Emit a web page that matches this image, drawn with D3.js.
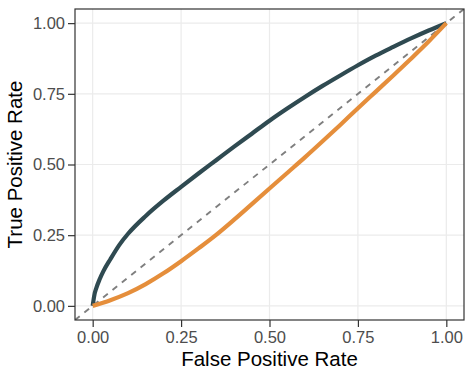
<!DOCTYPE html>
<html>
<head>
<meta charset="utf-8">
<script src="https://cdn.jsdelivr.net/npm/d3@7"></script>
<style>
  body { margin: 0; background: #fff; }
  svg text { font-family: "Liberation Sans", Arial, sans-serif; }
</style>
</head>
<body>
<script>
// ROC curves
const ticks = [0, 0.25, 0.5, 0.75, 1];
const tickLabels = ["0.00", "0.25", "0.50", "0.75", "1.00"];

const fprA = [0, 0.005, 0.01, 0.02, 0.03, 0.05, 0.075, 0.1, 0.15, 0.2, 0.25, 0.3, 0.35, 0.4, 0.45,
              0.5, 0.55, 0.6, 0.65, 0.7, 0.75, 0.8, 0.85, 0.9, 0.95, 1];
const tprA = [0, 0.04, 0.062, 0.095, 0.122, 0.165, 0.215, 0.255, 0.318, 0.372, 0.421, 0.469, 0.516, 0.563, 0.609,
              0.655, 0.698, 0.739, 0.778, 0.815, 0.851, 0.885, 0.916, 0.946, 0.974, 1];

const fprB = [0, 0.05, 0.1, 0.15, 0.2, 0.25, 0.3, 0.35, 0.4, 0.45, 0.5,
              0.55, 0.6, 0.65, 0.7, 0.75, 0.8, 0.85, 0.9, 0.95, 1];
const tprB = [0, 0.02, 0.045, 0.077, 0.115, 0.158, 0.204, 0.252, 0.305, 0.36, 0.415,
              0.47, 0.525, 0.582, 0.64, 0.699, 0.757, 0.815, 0.874, 0.935, 1];

const series = [
    { colour: "#2f4a51", pts: fprA.map((d, i) => [d, tprA[i]]) },
    { colour: "#e58e3b", pts: fprB.map((d, i) => [d, tprB[i]]) }
];

// Dimensions
const W = 472, H = 377;
const margin = { top: 9, right: 8, bottom: 57, left: 75 };
const width = W - margin.left - margin.right;
const height = H - margin.top - margin.bottom;

const svg = d3.select("body")
    .append("svg")
    .attr("width", W)
    .attr("height", H);

const g = svg.append("g")
    .attr("transform", `translate(${margin.left}, ${margin.top})`);

const x = d3.scaleLinear().domain([-0.05, 1.05]).range([0, width]);
const y = d3.scaleLinear().domain([-0.05, 1.05]).range([height, 0]);

// Grid
g.selectAll(".gx").data(ticks).join("line")
    .attr("x1", d => x(d)).attr("x2", d => x(d))
    .attr("y1", 0).attr("y2", height)
    .attr("stroke", "#ebebeb").attr("stroke-width", 1.2);
g.selectAll(".gy").data(ticks).join("line")
    .attr("y1", d => y(d)).attr("y2", d => y(d))
    .attr("x1", 0).attr("x2", width)
    .attr("stroke", "#ebebeb").attr("stroke-width", 1.2);

// Clip for the diagonal
g.append("clipPath").attr("id", "clip")
    .append("rect").attr("width", width).attr("height", height);

// Diagonal reference line
g.append("line")
    .attr("clip-path", "url(#clip)")
    .attr("x1", x(-0.05)).attr("y1", y(-0.05))
    .attr("x2", x(1.05)).attr("y2", y(1.05))
    .attr("stroke", "#7f7f7f")
    .attr("stroke-width", 1.9)
    .attr("stroke-dasharray", "6,6");

// Curves
const line = d3.line()
    .x(d => x(d[0]))
    .y(d => y(d[1]))
    .curve(d3.curveMonotoneX);

g.selectAll(".roc").data(series).join("path")
    .attr("fill", "none")
    .attr("stroke", d => d.colour)
    .attr("stroke-width", 4.2)
    .attr("d", d => line(d.pts));

// Panel border
g.append("rect")
    .attr("width", width).attr("height", height)
    .attr("fill", "none")
    .attr("stroke", "#333333")
    .attr("stroke-width", 1.2);

// Axes
const xAxis = g.append("g")
    .attr("transform", `translate(0, ${height})`)
    .call(d3.axisBottom(x).tickValues(ticks).tickFormat((d, i) => tickLabels[i]).tickSize(7).tickPadding(4));
const yAxis = g.append("g")
    .call(d3.axisLeft(y).tickValues(ticks).tickFormat((d, i) => tickLabels[i]).tickSize(7).tickPadding(3));

[xAxis, yAxis].forEach(a => {
    a.select(".domain").remove();
    a.selectAll(".tick line").attr("stroke", "#333333").attr("stroke-width", 1.2);
    a.selectAll(".tick text")
        .attr("fill", "#4d4d4d")
        .style("font-size", "16.5px");
});

// Axis titles
svg.append("text")
    .attr("x", margin.left + width / 2)
    .attr("y", 366)
    .attr("text-anchor", "middle")
    .style("font-size", "20.5px")
    .attr("fill", "#000")
    .text("False Positive Rate");

svg.append("text")
    .attr("transform", `translate(21.5, ${margin.top + height / 2}) rotate(-90)`)
    .attr("text-anchor", "middle")
    .style("font-size", "20.5px")
    .attr("fill", "#000")
    .text("True Positive Rate");
</script>
</body>
</html>
